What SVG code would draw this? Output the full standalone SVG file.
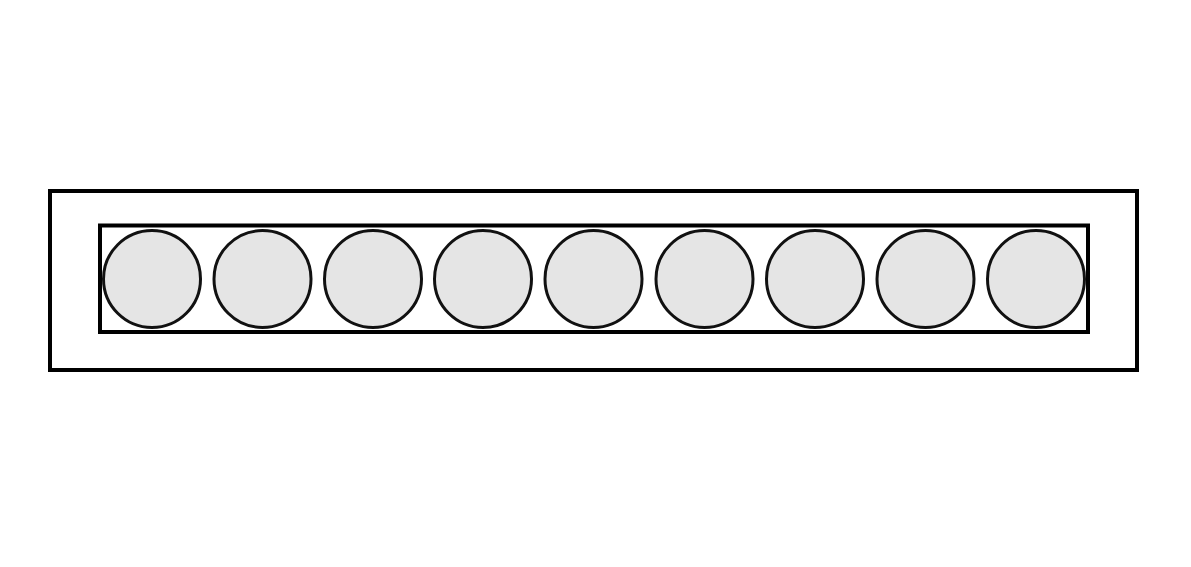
<svg xmlns="http://www.w3.org/2000/svg" width="1191" height="567" viewBox="0 0 1191 567">
<style>
.frame{fill:none;stroke:#000;stroke-width:4}
.tube{fill:#e5e5e5;stroke:#111;stroke-width:3}
</style>
<rect width="1191" height="567" fill="#fff"/>
<g id="outer"><rect class="frame" x="50" y="191" width="1087" height="179"/></g>
<g id="inner"><rect class="frame" x="100" y="225.5" width="988" height="106.5"/></g>
<g id="circles">
<g id="c1"><circle class="tube" cx="152" cy="279" r="48.5"/></g>
<g id="c2"><circle class="tube" cx="262.5" cy="279" r="48.5"/></g>
<g id="c3"><circle class="tube" cx="373" cy="279" r="48.5"/></g>
<g id="c4"><circle class="tube" cx="483" cy="279" r="48.5"/></g>
<g id="c5"><circle class="tube" cx="593.5" cy="279" r="48.5"/></g>
<g id="c6"><circle class="tube" cx="704.5" cy="279" r="48.5"/></g>
<g id="c7"><circle class="tube" cx="815" cy="279" r="48.5"/></g>
<g id="c8"><circle class="tube" cx="925.5" cy="279" r="48.5"/></g>
<g id="c9"><circle class="tube" cx="1036" cy="279" r="48.5"/></g>
</g>
</svg>
